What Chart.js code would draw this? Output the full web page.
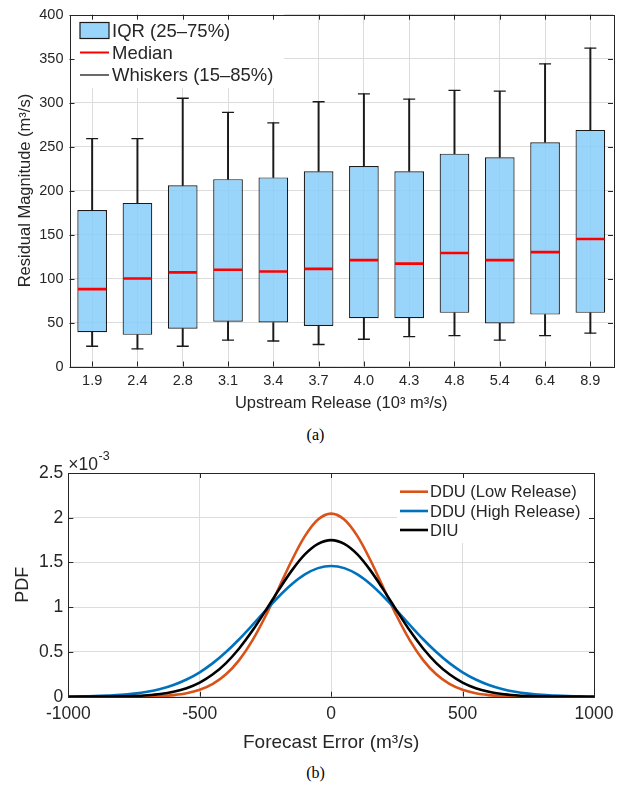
<!DOCTYPE html>
<html>
<head>
<meta charset="utf-8">
<title>Residual magnitude and forecast error PDF</title>
<script src="https://cdn.jsdelivr.net/npm/chart.js@4.4.1/dist/chart.umd.min.js"></script>
<style>
  html, body { margin: 0; padding: 0; background: #fff; }
  #figure { position: relative; width: 631px; height: 787px; overflow: hidden; }
  #figure canvas { position: absolute; left: 0; }
  .caption {
    position: absolute; left: 0; width: 631px; text-align: center;
    font: 16px "Liberation Serif", "Times New Roman", serif; color: #000;
  }
</style>
</head>
<body>
<div id="figure">
  <canvas id="boxChart" width="631" height="420" style="top:0"></canvas>
  <div class="caption" style="top:426px">(a)</div>
  <canvas id="pdfChart" width="631" height="320" style="top:440px"></canvas>
  <div class="caption" style="top:764px">(b)</div>
</div>
<script>
// Residuals grouped by upstream release (10^3 m^3/s)
const releaseLabels = ['1.9', '2.4', '2.8', '3.1', '3.4', '3.7', '4.0', '4.3', '4.8', '5.4', '6.4', '8.9'];
const whiskerLow  = [23, 20, 23, 30, 29, 25, 31, 34, 35, 30, 35, 38];
const quartile1   = [39, 36, 43, 51, 50, 46, 55, 55, 61, 49, 59, 61];
const medianValue = [88, 100, 107, 110, 108, 111, 121, 117, 129, 121, 130, 145];
const quartile3   = [178, 186, 206, 213, 215, 222, 228, 222, 242, 238, 255, 269];
const whiskerHigh = [259, 259, 305, 289, 277, 301, 310, 304, 314, 313, 344, 362];

// Forecast error PDFs, values in units of 1e-3
const forecastError = [-1000, -950, -900, -850, -800, -750, -700, -650, -600, -550, -500,
  -450, -400, -350, -300, -250, -200, -150, -100, -50, 0, 50, 100, 150, 200, 250, 300,
  350, 400, 450, 500, 550, 600, 650, 700, 750, 800, 850, 900, 950, 1000];
const pdfLowRelease = [0, 0, 0, 0.0002, 0.0005, 0.001, 0.003, 0.008, 0.018, 0.038, 0.077,
  0.143, 0.250, 0.409, 0.627, 0.899, 1.209, 1.522, 1.794, 1.980, 2.046, 1.980, 1.794, 1.522,
  1.209, 0.899, 0.627, 0.409, 0.250, 0.143, 0.077, 0.038, 0.018, 0.008, 0.003, 0.001, 0.0005,
  0.0002, 0, 0, 0];
const pdfHighRelease = [0.002, 0.003, 0.006, 0.012, 0.020, 0.034, 0.055, 0.086, 0.131, 0.192,
  0.273, 0.375, 0.499, 0.642, 0.799, 0.961, 1.117, 1.256, 1.366, 1.437, 1.461, 1.437, 1.366,
  1.256, 1.117, 0.961, 0.799, 0.642, 0.499, 0.375, 0.273, 0.192, 0.131, 0.086, 0.055, 0.034,
  0.020, 0.012, 0.006, 0.003, 0.002];
const pdfDiu = [0.0001, 0.0003, 0.001, 0.002, 0.004, 0.008, 0.016, 0.030, 0.055, 0.095, 0.158,
  0.250, 0.376, 0.539, 0.736, 0.959, 1.191, 1.409, 1.590, 1.708, 1.750, 1.708, 1.590, 1.409,
  1.191, 0.959, 0.736, 0.539, 0.376, 0.250, 0.158, 0.095, 0.055, 0.030, 0.016, 0.008, 0.004,
  0.002, 0.001, 0.0003, 0.0001];

const AXIS_COLOR = '#262626';
const GRID_COLOR = '#dcdcdc';
const BOX_FILL = 'rgba(135, 206, 250, 0.85)';

Chart.defaults.font.family = '"Liberation Sans", Arial, Helvetica, sans-serif';
Chart.defaults.color = AXIS_COLOR;
Chart.defaults.animation = false;

// Full box around the plot area with inward tick marks on all four sides
const frameTicks = {
    id: 'frameTicks',
    afterDatasetsDraw(chart, args, opts) {
        const { ctx, chartArea: a, scales: { x, y } } = chart;
        const len = opts.length || 5;
        ctx.save();
        ctx.strokeStyle = AXIS_COLOR;
        ctx.lineWidth = 1;
        ctx.beginPath();
        x.ticks.forEach((t, i) => {
            const px = Math.round(x.getPixelForTick(i)) + 0.5;
            ctx.moveTo(px, a.bottom); ctx.lineTo(px, a.bottom - len);
            ctx.moveTo(px, a.top); ctx.lineTo(px, a.top + len);
        });
        y.ticks.forEach((t, i) => {
            const py = Math.round(y.getPixelForTick(i)) + 0.5;
            ctx.moveTo(a.left, py); ctx.lineTo(a.left + len, py);
            ctx.moveTo(a.right, py); ctx.lineTo(a.right - len, py);
        });
        ctx.stroke();
        ctx.strokeRect(Math.round(a.left) + 0.5, Math.round(a.top) + 0.5,
            Math.round(a.width), Math.round(a.height));
        ctx.restore();
    }
};

// Legend drawn inside the axes on a white patch, no border;
// registered before frameTicks so the frame stays on top of it
const innerLegend = {
    id: 'innerLegend',
    afterDatasetsDraw(chart, args, opts) {
        if (!opts.items) return;
        const { ctx } = chart;
        const b = opts.box;
        ctx.save();
        ctx.fillStyle = '#fff';
        ctx.fillRect(b.x0, b.y0, b.x1 - b.x0, b.y1 - b.y0);
        ctx.font = opts.fontSize + 'px ' + Chart.defaults.font.family;
        ctx.textBaseline = 'middle';
        opts.items.forEach(item => {
            if (item.kind === 'patch') {
                ctx.fillStyle = item.fill;
                ctx.fillRect(opts.sampleX0, item.y - 8, opts.sampleX1 - opts.sampleX0, 16);
                ctx.strokeStyle = item.color;
                ctx.lineWidth = 1.2;
                ctx.strokeRect(opts.sampleX0, item.y - 8, opts.sampleX1 - opts.sampleX0, 16);
            } else {
                ctx.strokeStyle = item.color;
                ctx.lineWidth = item.width;
                ctx.beginPath();
                ctx.moveTo(opts.sampleX0, item.y);
                ctx.lineTo(opts.sampleX1, item.y);
                ctx.stroke();
            }
            ctx.fillStyle = AXIS_COLOR;
            ctx.fillText(item.text, opts.textX, item.y + 1);
        });
        ctx.restore();
    }
};

// "x10^-3" multiplier above the y axis
const axisExponent = {
    id: 'axisExponent',
    afterDraw(chart, args, opts) {
        if (!opts.text) return;
        const { ctx, chartArea: a } = chart;
        ctx.save();
        ctx.fillStyle = AXIS_COLOR;
        ctx.textBaseline = 'alphabetic';
        ctx.font = '17.5px ' + Chart.defaults.font.family;
        ctx.fillText(opts.text, a.left, a.top - 3.5);
        const w = ctx.measureText(opts.text).width;
        ctx.font = '12.5px ' + Chart.defaults.font.family;
        ctx.fillText(opts.power, a.left + w + 0.5, a.top - 13);
        ctx.restore();
    }
};

// (a) box plot: whiskers as thin floating bars, IQR as floating bars,
// caps and medians as line-style points
const boxCtx = document.getElementById('boxChart').getContext('2d');
new Chart(boxCtx, {
    type: 'bar',
    data: {
        labels: releaseLabels,
        datasets: [{
            type: 'line',
            label: 'Median',
            data: medianValue,
            showLine: false,
            pointStyle: 'line',
            pointRadius: 14.2,
            pointHoverRadius: 14.2,
            pointBorderColor: '#ff0000',
            pointBorderWidth: 2.6,
            order: 0
        }, {
            type: 'line',
            label: 'Upper cap',
            data: whiskerHigh,
            showLine: false,
            pointStyle: 'line',
            pointRadius: 6,
            pointBorderColor: '#1a1a1a',
            pointBorderWidth: 1.3,
            order: 1
        }, {
            type: 'line',
            label: 'Lower cap',
            data: whiskerLow,
            showLine: false,
            pointStyle: 'line',
            pointRadius: 6,
            pointBorderColor: '#1a1a1a',
            pointBorderWidth: 1.3,
            order: 1
        }, {
            label: 'IQR (25–75%)',
            data: quartile1.map((v, i) => [v, quartile3[i]]),
            backgroundColor: BOX_FILL,
            borderColor: '#1a1a1a',
            borderWidth: 1.2,
            borderSkipped: false,
            grouped: false,
            barPercentage: 0.655,
            categoryPercentage: 1,
            order: 2
        }, {
            label: 'Lower whisker',
            data: whiskerLow.map((v, i) => [v, quartile1[i]]),
            backgroundColor: '#1a1a1a',
            barThickness: 1.3,
            grouped: false,
            order: 3
        }, {
            label: 'Upper whisker',
            data: quartile3.map((v, i) => [v, whiskerHigh[i]]),
            backgroundColor: '#1a1a1a',
            barThickness: 1.3,
            grouped: false,
            order: 3
        }]
    },
    options: {
        responsive: false,
        layout: { autoPadding: false, padding: { top: 10, right: 18, left: 0, bottom: 0 } },
        plugins: {
            legend: { display: false },
            tooltip: { enabled: false },
            frameTicks: { length: 5 },
            innerLegend: {
                box: { x0: 70, y0: 10, x1: 284, y1: 88 },
                sampleX0: 80, sampleX1: 109, textX: 112, fontSize: 18.5,
                items: [
                    { kind: 'patch', fill: BOX_FILL, color: '#1a1a1a', text: 'IQR (25–75%)', y: 30.5 },
                    { kind: 'line', color: '#ff0000', width: 2, text: 'Median', y: 52.5 },
                    { kind: 'line', color: '#1a1a1a', width: 1.3, text: 'Whiskers (15–85%)', y: 75 }
                ]
            }
        },
        scales: {
            x: {
                offset: true,
                grid: { offset: false, color: GRID_COLOR, drawTicks: false },
                border: { display: false },
                ticks: { padding: 6, font: { size: 14.5 } },
                title: {
                    display: true,
                    text: 'Upstream Release (10³ m³/s)',
                    font: { size: 16.5 },
                    padding: { top: 0, bottom: 7 }
                },
                afterFit: scale => { scale.height = 53.5; }
            },
            y: {
                min: 0,
                max: 400,
                grid: { color: GRID_COLOR, drawTicks: false },
                border: { display: false },
                ticks: { stepSize: 50, padding: 6, font: { size: 14.5 } },
                title: {
                    display: true,
                    text: 'Residual Magnitude (m³/s)',
                    font: { size: 16.5 },
                    padding: { top: 16, bottom: 0 }
                },
                afterFit: scale => { scale.width = 69.5; }
            }
        }
    },
    plugins: [innerLegend, frameTicks]
});

// (b) forecast error PDFs
const toPoints = values => values.map((v, i) => ({ x: forecastError[i], y: v }));

const pdfCtx = document.getElementById('pdfChart').getContext('2d');
new Chart(pdfCtx, {
    type: 'line',
    data: {
        datasets: [{
            label: 'DDU (Low Release)',
            data: toPoints(pdfLowRelease),
            borderColor: '#D95319',
            order: 2
        }, {
            label: 'DDU (High Release)',
            data: toPoints(pdfHighRelease),
            borderColor: '#0072BD',
            order: 1
        }, {
            label: 'DIU',
            data: toPoints(pdfDiu),
            borderColor: '#000000',
            order: 0
        }]
    },
    options: {
        responsive: false,
        clip: 4,
        layout: { autoPadding: false, padding: { top: 33, right: 37, left: 0, bottom: 0 } },
        elements: {
            point: { radius: 0, hoverRadius: 0 },
            line: { borderWidth: 2.6, cubicInterpolationMode: 'monotone', fill: false }
        },
        plugins: {
            legend: { display: false },
            tooltip: { enabled: false },
            frameTicks: { length: 5 },
            axisExponent: { text: '×10', power: '-3' },
            innerLegend: {
                box: { x0: 397, y0: 33, x1: 594, y1: 103 },
                sampleX0: 400, sampleX1: 428, textX: 430, fontSize: 16.5,
                items: [
                    { kind: 'line', color: '#D95319', width: 2.6, text: 'DDU (Low Release)', y: 51.7 },
                    { kind: 'line', color: '#0072BD', width: 2.6, text: 'DDU (High Release)', y: 71 },
                    { kind: 'line', color: '#000000', width: 2.6, text: 'DIU', y: 90 }
                ]
            }
        },
        scales: {
            x: {
                type: 'linear',
                min: -1000,
                max: 1000,
                grid: { color: GRID_COLOR, drawTicks: false },
                border: { display: false },
                ticks: { stepSize: 500, padding: 7, font: { size: 17.5 }, callback: v => String(v) },
                title: {
                    display: true,
                    text: 'Forecast Error (m³/s)',
                    font: { size: 19 },
                    padding: { top: 0, bottom: 6 }
                },
                afterFit: scale => { scale.height = 63.3; }
            },
            y: {
                min: 0,
                max: 2.5,
                grid: { color: GRID_COLOR, drawTicks: false },
                border: { display: false },
                ticks: {
                    stepSize: 0.5,
                    padding: 5,
                    font: { size: 17.5 },
                    callback: v => String(Math.round(v * 10) / 10)
                },
                title: {
                    display: true,
                    text: 'PDF',
                    font: { size: 18 },
                    padding: { top: 12, bottom: 0 }
                },
                afterFit: scale => { scale.width = 68.3; }
            }
        }
    },
    plugins: [innerLegend, frameTicks, axisExponent]
});
</script>
</body>
</html>
